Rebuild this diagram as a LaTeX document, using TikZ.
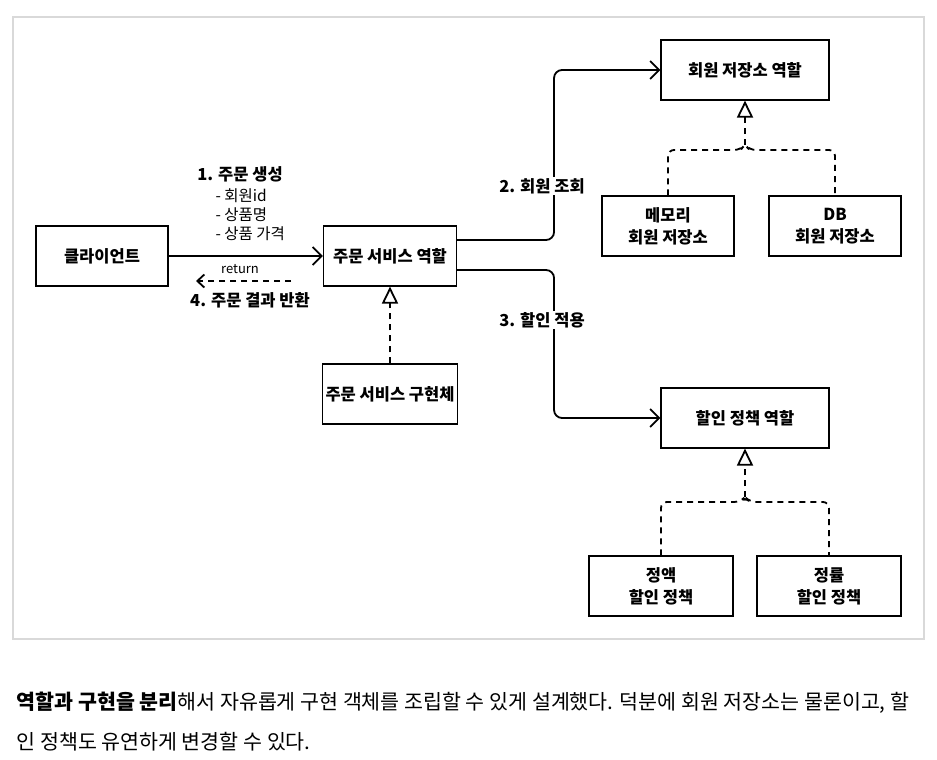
\documentclass[tikz,border=0pt]{standalone}
\usepackage{fontspec}
\setmainfont{Noto Sans CJK KR}
\usetikzlibrary{arrows.meta}
\begin{document}
\begin{tikzpicture}[x=1pt,y=-1pt,
box/.style={draw,rectangle,line width=1.1pt,fill=white,
  minimum height=60pt,align=center,font=\fontsize{16.5}{22}\selectfont\bfseries},
flow/.style={line width=1.8pt,-{Straight Barb[length=9pt,width=18pt,line width=1.8pt]}},
back/.style={line width=1.8pt,dash pattern=on 6pt off 5pt,
  -{Straight Barb[length=7pt,width=13pt,line width=1.8pt]}},
impl/.style={line width=1.8pt,dash pattern=on 6pt off 5pt,
  -{Triangle[open,length=17pt,width=16pt,line width=1.8pt]}},
branch/.style={line width=1.8pt,dash pattern=on 6pt off 5pt,rounded corners=6pt},
lab/.style={font=\fontsize{16.5}{20}\selectfont\bfseries}]
\useasboundingbox (0,0) rectangle (937,760);
\draw[line width=2pt,color=black!15] (13,17) rectangle (924,639);

\node[box,minimum width=132pt](client) at (102,256){클라이언트};

\node[box,minimum width=133pt](ordsvc) at (390,256){주문 서비스 역할};

\node[box,minimum width=133pt](ordimpl) at (390,394){주문 서비스 구현체};

\node[box,minimum width=168pt](memrole) at (745,70){회원 저장소 역할};

\node[box,minimum width=132pt](memmem) at (668,226){메모리\\회원 저장소};

\node[box,minimum width=132pt](memdb) at (835,226){DB\\회원 저장소};

\node[box,minimum width=168pt](disrole) at (745,418){할인 정책 역할};

\node[box,minimum width=144pt](disfix) at (661,586){정액\\할인 정책};

\node[box,minimum width=144pt](disrate) at (829,586){정률\\할인 정책};

%labels
\node[lab](ordlab) at (240,174){1. 주문 생성};
\node[anchor=north west,align=left,font=\fontsize{15.5}{19}\selectfont](ordinfo) at (212,185){- 회원id\\- 상품명\\- 상품 가격};
\node[font=\fontsize{13}{15}\selectfont](retlab) at (240,269){return};
\node[lab](reslab) at (250,300){4. 주문 결과 반환};

\coordinate (retfrom) at (291,281);
\coordinate (retto) at (196,281);
\coordinate (memj) at (745,150);
\coordinate (disj) at (745,502);

\draw [flow] (client) to (ordsvc);
\draw [back] (retfrom) to (retto);
\draw [flow,rounded corners=8pt] ([yshift=16pt]ordsvc.east) -- ++(97,0) |- (memrole.west);
\draw [flow,rounded corners=8pt] ([yshift=-14pt]ordsvc.east) -- ++(97,0) |- (disrole.west);

\node[lab,fill=white,inner sep=1pt](memlab) at (542,186){2. 회원 조회};
\node[lab,fill=white,inner sep=1pt](dislab) at (542,320){3. 할인 적용};

\draw [impl] (ordimpl) to (ordsvc);

\draw [branch] (memmem.north) |- ([xshift=-5pt]memj) -- ([yshift=5pt]memj) -- ([xshift=5pt]memj) -| (memdb.north);
\draw [impl] ([yshift=5pt]memj) to (memrole.south);

\draw [branch] (disfix.north) |- ([xshift=-5pt]disj) -- ([yshift=5pt]disj) -- ([xshift=5pt]disj) -| (disrate.north);
\draw [impl] ([yshift=5pt]disj) to (disrole.south);

%caption
\node[anchor=base west,font=\fontsize{20.6}{24}\selectfont](note1) at (13,709){\textbf{역할과 구현을 분리}해서 자유롭게 구현 객체를 조립할 수 있게 설계했다. 덕분에 회원 저장소는 물론이고, 할};
\node[anchor=base west,font=\fontsize{20.6}{24}\selectfont](note2) at (13,749){인 정책도 유연하게 변경할 수 있다.};
\end{tikzpicture}
\end{document}
